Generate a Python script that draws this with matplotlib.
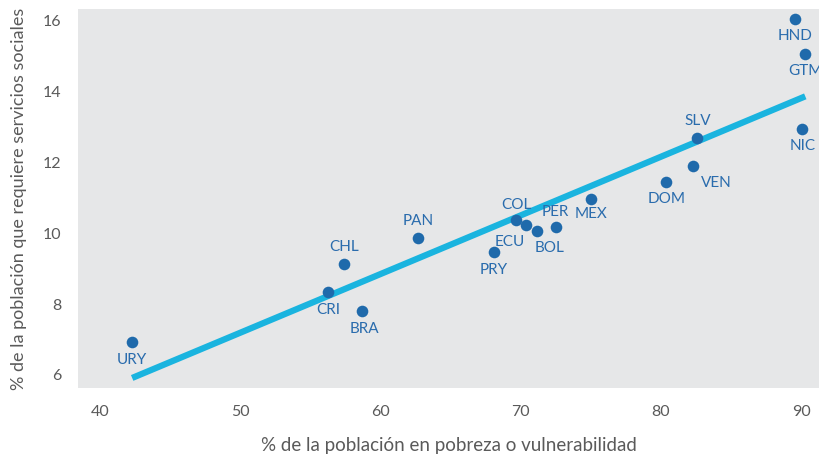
import numpy as np
import matplotlib
matplotlib.use("Agg")
import matplotlib.pyplot as plt

countries = ["URY", "CRI", "CHL", "BRA", "PAN", "PRY", "COL", "ECU", "BOL", "PER",
             "MEX", "DOM", "VEN", "SLV", "NIC", "HND", "GTM"]
pobreza = [42.3, 56.3, 57.4, 58.7, 62.7, 68.1, 69.7, 70.4, 71.2, 72.5,
           75.0, 80.4, 82.3, 82.6, 90.1, 89.6, 90.3]
servicios = [6.93, 8.34, 9.13, 7.80, 9.86, 9.46, 10.37, 10.23, 10.06, 10.17,
             10.96, 11.44, 11.89, 12.68, 12.93, 16.03, 15.04]
# label offsets in points (dx, dy)
offsets = {
    "URY": (0, -13), "CRI": (0, -13), "CHL": (0, 12), "BRA": (2, -13),
    "PAN": (0, 12), "PRY": (0, -13), "COL": (0, 11), "ECU": (-12, -12),
    "BOL": (9, -12), "PER": (0, 11), "MEX": (0, -11), "DOM": (0, -12),
    "VEN": (17, -12), "SLV": (0, 12), "NIC": (0, -12), "HND": (0, -12),
    "GTM": (0, -12),
}
xticks = [40, 50, 60, 70, 80, 90]
yticks = [6, 8, 10, 12, 14, 16]

plt.rcParams['font.family'] = ['Lato', 'DejaVu Sans']

fig = plt.figure(figsize=(8.2, 4.55), dpi=100)
ax = fig.add_axes([0.095, 0.147, 0.905, 0.833])
ax.set_facecolor("#e6e7e8")
for s in ax.spines.values():
    s.set_visible(False)

x = np.array(pobreza)
y = np.array(servicios)
slope, intercept = np.polyfit(x, y, 1)
xl = np.array([x.min(), x.max()])
ax.plot(xl, slope * xl + intercept, color="#1ab4df", lw=4.5, solid_capstyle="butt", zorder=2)
ax.scatter(x, y, s=70, color="#1f6aab", zorder=3, linewidths=0)

for c, xi, yi in zip(countries, pobreza, servicios):
    dx, dy = offsets[c]
    ax.annotate(c, (xi, yi), xytext=(dx, dy), textcoords="offset points",
                ha="center", va="center", fontsize=11, color="#2a6cad", zorder=4)

ax.set_xlim(38.43, 91.35)
ax.set_ylim(5.63, 16.31)
ax.set_xticks(xticks)
ax.set_yticks(yticks)
ax.tick_params(length=0, labelsize=11.5, labelcolor="#5a5a5a", pad=12)
ax.set_xlabel("% de la población en pobreza o vulnerabilidad", fontsize=13.5,
              color="#5a5a5a", labelpad=13)
ax.set_ylabel("% de la población que requiere servicios sociales", fontsize=13,
              color="#5a5a5a", labelpad=11)

fig.savefig("out.png", dpi=100)
